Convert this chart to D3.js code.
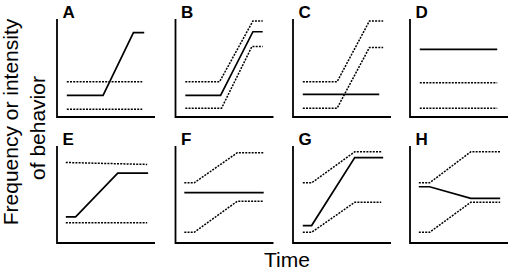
<!DOCTYPE html>
<html>
<head>
<meta charset="utf-8">
<script src="https://cdn.jsdelivr.net/npm/d3@7"></script>
<style>
  body { margin: 0; background: #fff; }
  svg { display: block; font-family: "Liberation Sans", Arial, sans-serif; }
</style>
</head>
<body>
<div id="chart"></div>
<script>
// panel letters, in reading order
var panelLabels = ["A", "B", "C", "D", "E", "F", "G", "H"];

// solid line (behaviour) per panel, [time, value] on a 0-10 scale
var solidLines = [
  [[1, 2.2], [4.7, 2.2], [7.8, 8.6], [8.9, 8.6]],
  [[1, 2.2], [4.6, 2.2], [7.9, 8.7], [8.9, 8.7]],
  [[1, 2.3], [8.8, 2.3]],
  [[1, 6.9], [8.9, 6.9]],
  [[0.9, 2.7], [1.9, 2.7], [6.2, 7.2], [9.3, 7.2]],
  [[0.9, 5.2], [9.0, 5.2]],
  [[1, 1.8], [1.9, 1.8], [6.3, 8.8], [9.2, 8.8]],
  [[0.9, 5.8], [2.0, 5.8], [6.2, 4.6], [9.2, 4.6]]
];

// dotted upper bound per panel
var upperLines = [
  [[1, 3.6], [8.7, 3.6]],
  [[1, 3.6], [4.5, 3.6], [7.9, 9.8], [8.9, 9.8]],
  [[1, 3.6], [4.5, 3.6], [7.8, 9.8], [9.2, 9.8]],
  [[1, 3.5], [8.9, 3.5]],
  [[0.9, 8.3], [9.2, 8.1]],
  [[0.9, 6.2], [1.9, 6.2], [6.3, 9.3], [9.0, 9.3]],
  [[1, 6.2], [1.9, 6.2], [6.3, 9.4], [9.0, 9.4]],
  [[0.9, 6.2], [2.0, 6.2], [6.2, 9.4], [9.2, 9.4]]
];

// dotted lower bound per panel
var lowerLines = [
  [[1, 0.8], [8.7, 0.8]],
  [[1, 0.9], [4.7, 0.9], [7.8, 7.2], [8.9, 7.2]],
  [[1, 0.9], [4.5, 0.9], [7.8, 7.1], [9.2, 7.1]],
  [[1, 0.9], [8.9, 0.9]],
  [[0.9, 2.1], [9.2, 2.1]],
  [[0.9, 1.1], [1.9, 1.1], [6.3, 4.3], [9.0, 4.3]],
  [[1, 1.1], [1.9, 1.1], [6.3, 4.2], [9.0, 4.2]],
  [[0.9, 1.1], [2.0, 1.1], [6.2, 4.2], [9.2, 4.2]]
];

var width = 510, height = 270;

// layout of the 4x2 grid
var colLeft = [57, 175.5, 293, 410];
var panelWidth = 98;
var rowTop = [19, 146];
var rowBottom = [117, 243];

var svg = d3.select("#chart").append("svg")
  .attr("width", width)
  .attr("height", height);

var x = d3.scaleLinear().domain([0, 10]).range([0, panelWidth]);

panelLabels.forEach(function(label, i) {
  var col = i % 4, row = Math.floor(i / 4);
  var h = rowBottom[row] - rowTop[row];
  var y = d3.scaleLinear().domain([0, 10]).range([h, 0]);

  var g = svg.append("g")
    .attr("transform", "translate(" + colLeft[col] + "," + rowTop[row] + ")");

  var line = d3.line()
    .x(function(d) { return x(d[0]); })
    .y(function(d) { return y(d[1]); });

  // axes: plain L shape
  g.append("path")
    .attr("d", "M0,0V" + h + "H" + panelWidth)
    .attr("fill", "none")
    .attr("stroke", "#000")
    .attr("stroke-width", 1.8);

  [upperLines[i], lowerLines[i]].forEach(function(pts) {
    g.append("path")
      .datum(pts)
      .attr("d", line)
      .attr("fill", "none")
      .attr("stroke", "#000")
      .attr("stroke-width", 1.5)
      .attr("stroke-dasharray", "2,1.2");
  });

  g.append("path")
    .datum(solidLines[i])
    .attr("d", line)
    .attr("fill", "none")
    .attr("stroke", "#000")
    .attr("stroke-width", 1.7);

  g.append("text")
    .attr("x", 5.5)
    .attr("y", -1)
    .style("font-size", "17px")
    .style("font-weight", "bold")
    .text(label);
});

// axis titles
svg.append("text")
  .attr("x", 287)
  .attr("y", 267)
  .attr("text-anchor", "middle")
  .style("font-size", "21px")
  .text("Time");

svg.append("text")
  .attr("transform", "translate(18,122) rotate(-90)")
  .attr("text-anchor", "middle")
  .style("font-size", "21px")
  .text("Frequency or intensity");

svg.append("text")
  .attr("transform", "translate(45,128) rotate(-90)")
  .attr("text-anchor", "middle")
  .style("font-size", "21px")
  .text("of behavior");
</script>
</body>
</html>
